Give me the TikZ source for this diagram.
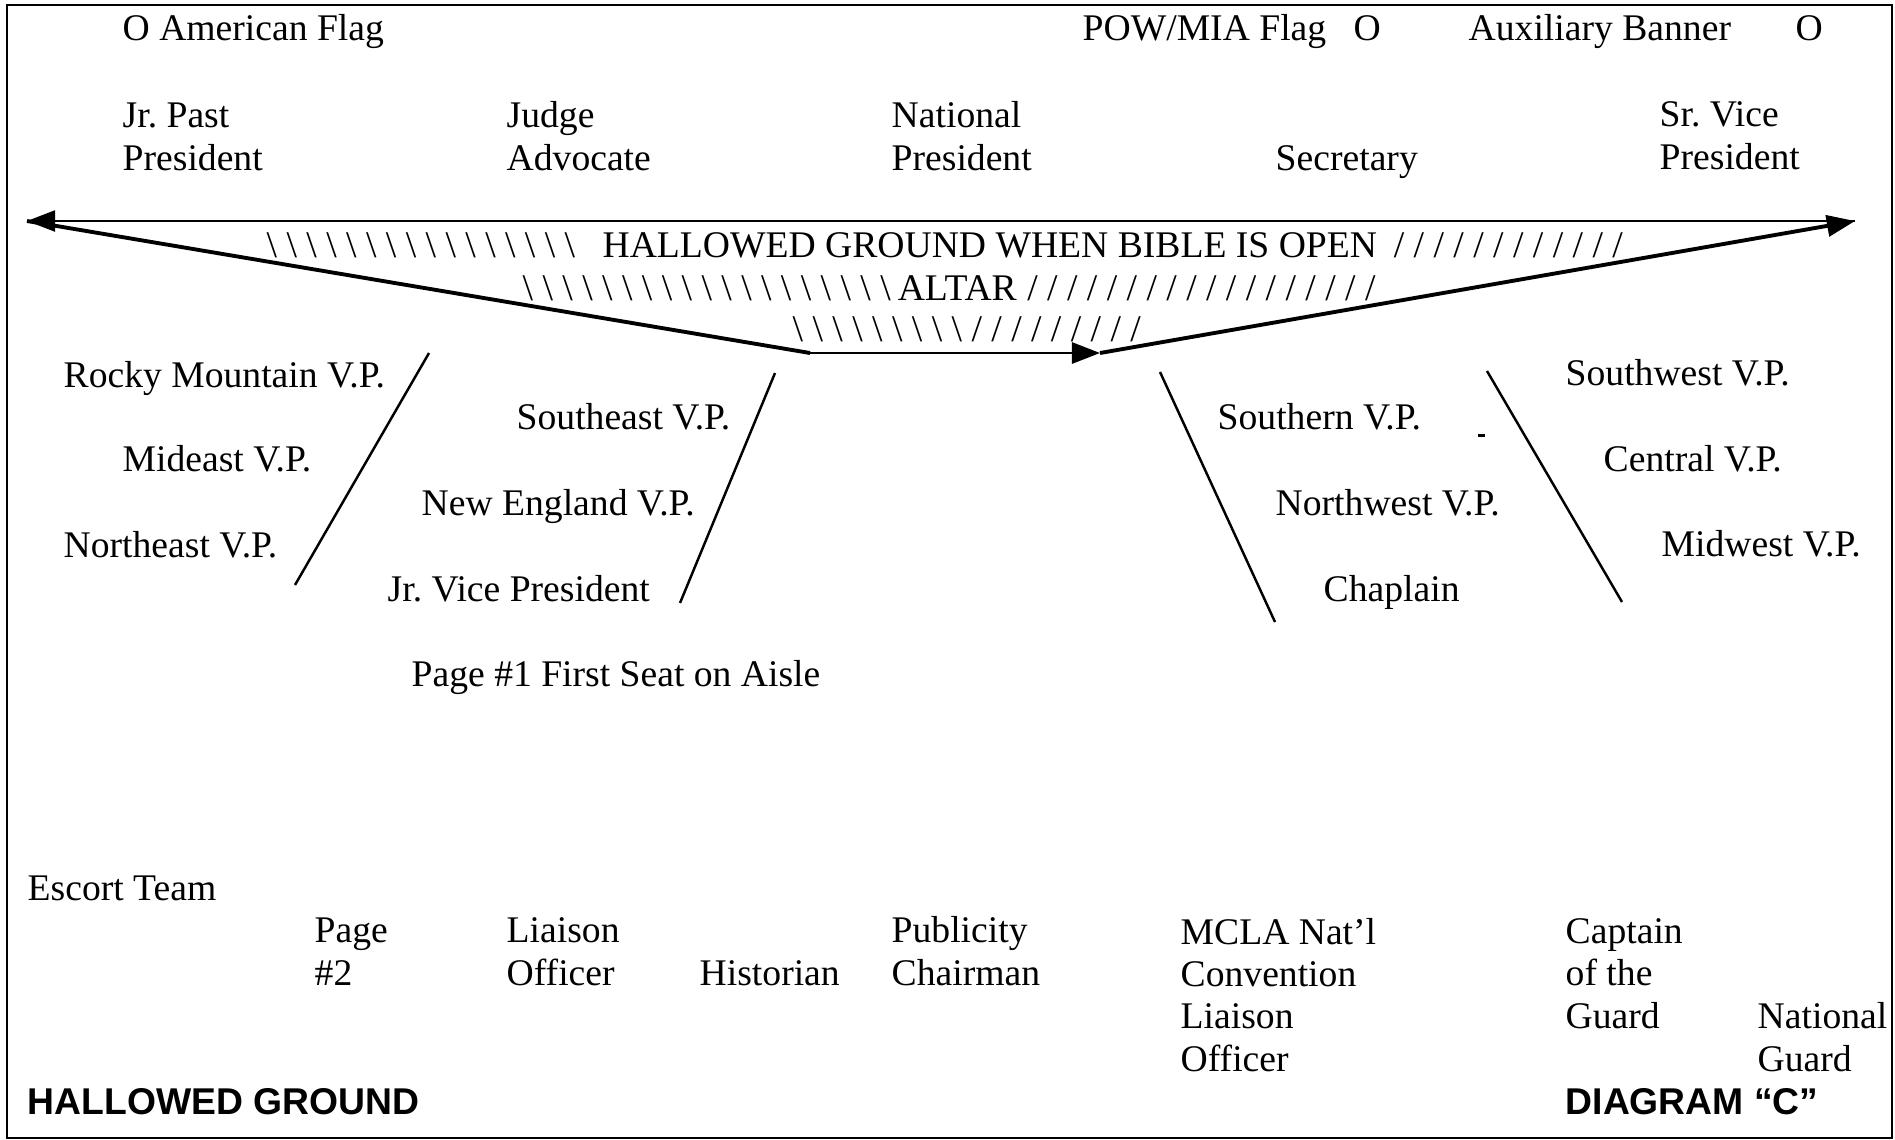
\documentclass[tikz,border=0pt]{standalone}
\usepackage{fontspec}
\setmainfont{Liberation Serif}
\setsansfont{Liberation Sans}
\usetikzlibrary{arrows.meta,positioning}
\frenchspacing
\newcommand{\hatchback}[1]{\foreach \k in {1,...,#1}{\textbackslash\ifnum\k<#1\ \fi}}
\newcommand{\hatchfwd}[1]{\foreach \k in {1,...,#1}{/\ifnum\k<#1\ \fi}}

\begin{document}
\begin{tikzpicture}[x=0.01cm, y=-0.01cm,
    lbl/.style={anchor=base west, inner sep=0pt, align=left, font=\fontsize{10.7}{12}\selectfont},
    boldlbl/.style={lbl, font=\sffamily\bfseries\fontsize{10.6}{12}\selectfont},
    seat/.style={line width=0.7pt},
    route/.style={line width=1.1pt},
    tip/.style={-{Triangle[length=8pt,width=6pt]}}]
  \useasboundingbox (0,0) rectangle (1895,1139);
  % frame
  \draw[line width=0.7pt] (7,5) rectangle (1892,1138);

  % flags
  \node[lbl] (flagUS) at (122,40) {O American Flag};
  \node[lbl] (flagPOW) at (1082,40) {POW/MIA Flag};
  \node[lbl] (flagPOWo) at (1353,40) {O};
  \node[lbl] (flagAux) at (1468,40) {Auxiliary Banner};
  \node[lbl] (flagAuxo) at (1795,40) {O};

  % officers at the head (multi-line nodes sit on their last line)
  \node[lbl] (jrpast) at (122,170) {Jr. Past\\President};
  \node[lbl] (judge) at (506,170) {Judge\\Advocate};
  \node[lbl] (natpres) at (891,170) {National\\President};
  \node[lbl] (secr) at (1275,170) {Secretary};
  \node[lbl] (srvice) at (1659,169) {Sr. Vice\\President};

  % altar triangle
  \coordinate (TL) at (27,221);
  \coordinate (TR) at (1855,221);
  \coordinate (BL) at (810,353);
  \coordinate (BR) at (1100,353);
  \draw[line width=0.6pt, tip] (TR) -- (TL);
  \draw[route] (TL) -- (BL);
  \draw[line width=0.8pt, tip] (BL) -- (BR);
  \draw[route, tip] (BR) -- (TR);

  % hatched ground
  \node[lbl] (hatch1) at (266,257) {\hatchback{16}\hspace{7.8pt}HALLOWED GROUND WHEN BIBLE IS OPEN\hspace{4.8pt}\hatchfwd{12}};
  \node[lbl] (hatch2) at (522,300) {\hatchback{19}\hspace{2pt}ALTAR\hspace{3pt}\hatchfwd{18}};
  \node[lbl] (hatch3) at (792,341) {\hatchback{9}\ \hatchfwd{9}};

  % left seats
  \coordinate (L1a) at (429,353);
  \coordinate (L1b) at (295,585);
  \coordinate (L2a) at (775,373);
  \coordinate (L2b) at (680,603);
  \draw[seat] (L1a) -- (L1b);
  \draw[seat] (L2a) -- (L2b);
  \node[lbl] (rocky) at (63,387) {Rocky Mountain V.P.};
  \node[lbl] (mideast) at (122,471) {Mideast V.P.};
  \node[lbl] (northeast) at (63,557) {Northeast V.P.};
  \node[lbl] (southeast) at (516,429) {Southeast V.P.};
  \node[lbl] (newengl) at (421,515) {New England V.P.};
  \node[lbl] (jrvice) at (387,601) {Jr. Vice President};
  \node[lbl] (pageone) at (411,686) {Page \#1 First Seat on Aisle};

  % right seats
  \coordinate (R1a) at (1160,372);
  \coordinate (R1b) at (1275,622);
  \coordinate (R2a) at (1487,371);
  \coordinate (R2b) at (1622,602);
  \draw[seat] (R1a) -- (R1b);
  \draw[seat] (R2a) -- (R2b);
  \fill (1478,434) rectangle (1485,437);
  \node[lbl] (southern) at (1217,429) {Southern V.P.};
  \node[lbl] (northwest) at (1275,515) {Northwest V.P.};
  \node[lbl] (chaplain) at (1323,601) {Chaplain};
  \node[lbl] (southwest) at (1565,385) {Southwest V.P.};
  \node[lbl] (central) at (1603,471) {Central V.P.};
  \node[lbl] (midwest) at (1661,556) {Midwest V.P.};

  % rear of the room
  \node[lbl] (escort) at (27,900) {Escort Team};
  \node[lbl] (pagetwo) at (314,985) {Page\\\#2};
  \node[lbl] (liaison) at (506,985) {Liaison\\Officer};
  \node[lbl] (historian) at (699,985) {Historian};
  \node[lbl] (publicity) at (891,985) {Publicity\\Chairman};
  \node[lbl] (mcla) at (1180,1071) {MCLA Nat’l\\Convention\\Liaison\\Officer};
  \node[lbl] (captain) at (1565,1028) {Captain\\of the\\Guard};
  \node[lbl] (natguard) at (1757,1071) {National\\Guard};

  % titles
  \node[boldlbl] (title) at (27,1114) {HALLOWED GROUND};
  \node[boldlbl] (diagram) at (1565,1114) {DIAGRAM “C”};
\end{tikzpicture}
\end{document}
